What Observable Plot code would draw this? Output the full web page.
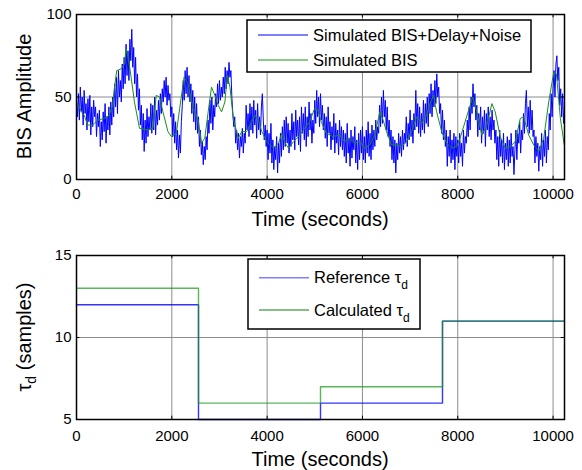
<!DOCTYPE html>
<html><head><meta charset="utf-8">
<script src="https://cdn.jsdelivr.net/npm/d3@7"></script>
<script src="https://cdn.jsdelivr.net/npm/@observablehq/plot@0.6"></script>
<style>
html,body{margin:0;padding:0;background:#fff;}
#chart{position:relative;width:582px;height:470px;}
#chart svg{position:absolute;left:0;}
</style></head><body><div id="chart"></div>
<script>
// ---- data ----
const noisyStep = 20; // seconds between samples of the noisy series
const bisNoisy = [
 48,38,52,36,56,41,50,33,54,40,46,30,49,35,51,27,44,32,48,38,
 44,26,40,32,42,20,35,24,41,29,46,22,38,30,44,27,47,33,50,38,
 58,44,62,40,66,50,60,47,70,55,74,58,82,63,78,60,85,72,91,68,
 80,58,74,50,64,42,55,33,45,24,40,17,36,22,43,26,38,30,46,28,
 45,30,50,27,42,33,48,36,52,40,55,47,60,50,62,45,57,48,52,38,
 44,26,40,22,35,18,30,13,27,16,35,45,60,48,66,52,68,50,63,47,
 58,40,54,35,50,30,46,28,38,20,30,15,23,9,20,12,26,18,36,28,
 48,34,50,30,45,38,52,44,58,46,60,48,56,50,62,52,68,55,66,58,
 71,62,66,50,40,32,38,22,30,18,28,13,26,20,31,16,28,22,45,30,
 40,26,46,30,44,28,48,33,42,25,46,30,38,27,44,52,36,24,33,20,
 30,12,28,16,34,10,24,6,20,12,26,4,22,10,28,14,32,18,36,20,
 38,22,34,16,30,20,40,24,35,18,42,26,36,21,38,17,44,28,40,24,
 44,20,38,26,47,30,40,22,36,28,48,34,54,38,50,32,52,36,45,30,
 40,25,38,20,44,28,35,18,32,24,40,16,34,22,30,15,36,20,32,18,
 30,14,28,10,34,16,25,8,30,13,26,18,32,10,24,6,28,12,30,16,
 32,12,26,10,30,16,35,14,28,12,33,18,30,20,36,24,32,28,45,32,
 50,34,54,38,48,30,44,26,36,20,30,12,26,10,24,4,22,12,28,16,
 26,14,30,18,28,22,38,20,34,24,42,26,36,22,40,30,54,32,46,28,
 44,26,40,30,48,28,46,34,50,32,52,40,58,38,54,44,60,46,64,50,
 56,40,46,28,42,24,36,20,30,8,26,14,30,10,24,12,28,6,26,14,
 24,10,28,14,22,8,30,16,26,22,36,26,44,30,50,40,58,44,52,36,
 45,26,40,30,44,22,38,28,42,20,40,30,44,26,38,24,42,30,36,22,
 30,12,26,8,30,14,24,10,28,6,22,12,26,8,24,10,28,14,20,3,
 18,30,12,28,22,35,16,30,24,40,28,46,54,32,44,28,48,30,42,26,
 30,10,26,14,22,5,20,12,28,8,24,14,30,10,26,18,40,30,52,38,
 55,66,50,70,75,60,68,45,55,38,52,34,44
];
const bisTime = [0,127,162,232,337,443,583,689,759,794,844,935,1005,1040,1076,1146,1216,1322,1497,1603,1673,1743,1814,1919,1989,2095,2165,2257,2341,2446,2552,2622,2692,2763,2833,2903,2974,3044,3114,3164,3220,3290,3395,3466,3571,3677,3747,3817,3888,3993,4134,4239,4309,4380,4450,4555,4661,4786,4891,4996,5067,5137,5242,5382,5523,5628,5733,5839,5944,6049,6154,6260,6365,6435,6505,6611,6716,6821,6926,7032,7137,7242,7347,7432,7488,7558,7663,7769,7874,7979,8049,8154,8260,8316,8400,8505,8611,8716,8786,8891,8997,9102,9207,9312,9382,9488,9593,9698,9804,9909,10014,10070,10154,10235];
const bisSim = [47,40,39,33,33,36,37,39,45,55,66,67,70,79,76,62,47,31,30,31,51,50,41,29,26,28,43,62,58,43,36,22,25,41,56,51,45,41,47,63,56,37,25,29,29,35,39,36,29,23,19,22,28,22,19,23,26,31,35,43,42,35,28,26,27,23,25,22,23,19,21,27,41,36,29,21,21,20,23,29,38,34,39,47,51,41,29,22,19,20,25,35,45,50,41,27,33,46,41,26,19,20,23,37,38,27,21,17,25,47,65,64,37,21];
const stepTime = [0, 2560, 5120, 7680, 10240];
const tauRef  = [12, 5, 6, 11, 11];
const tauCalc = [13, 6, 7, 11, 11];
const xTicks = [0, 2000, 4000, 6000, 8000, 10000];
const yTicksTop = [0, 50, 100];
const yTicksBot = [5, 10, 15];
const xDomain = [0, 10240];

// ---- build ----
const FONT = '"Liberation Sans", Arial, Helvetica, sans-serif';
const noisy = bisNoisy.map((v, i) => ({t: i * noisyStep, v}));
const smooth = bisTime.map((t, i) => ({t, v: bisSim[i]}));
const refRows = stepTime.map((t, i) => ({t, v: tauRef[i]}));
const calcRows = stepTime.map((t, i) => ({t, v: tauCalc[i]}));
const GRID = "#8c8c8c";

function innerTicks(yDom, tickLenY, tickLenX, yt) {
  return [
    Plot.ruleX(xTicks, {y1: yDom[0], y2: yDom[0] + tickLenY, stroke: "#000"}),
    Plot.ruleX(xTicks, {y1: yDom[1] - tickLenY, y2: yDom[1], stroke: "#000"}),
    Plot.ruleY(yt, {x1: xDomain[0], x2: xDomain[0] + tickLenX, stroke: "#000"}),
    Plot.ruleY(yt, {x1: xDomain[1] - tickLenX, x2: xDomain[1], stroke: "#000"})
  ];
}

const topSvg = Plot.plot({
  width: 582, height: 235,
  marginLeft: 76, marginRight: 18, marginTop: 14, marginBottom: 56,
  style: {fontFamily: FONT, fontSize: "15px", color: "#000", background: "transparent", overflow: "visible"},
  x: {domain: xDomain},
  y: {domain: [0, 100]},
  marks: [
    Plot.gridX(xTicks, {stroke: GRID, strokeOpacity: 1}),
    Plot.gridY(yTicksTop, {stroke: GRID, strokeOpacity: 1}),
    Plot.line(noisy, {x: "t", y: "v", stroke: "#0000ff", strokeWidth: 1}),
    Plot.line(smooth, {x: "t", y: "v", stroke: "#1a8f1a", strokeWidth: 1}),
    ...innerTicks([0, 100], 2, 70, yTicksTop),
    Plot.frame({stroke: "#000", strokeWidth: 1.5}),
    Plot.axisX(xTicks, {tickSize: 0, tickPadding: 9, tickFormat: d => String(d), label: null, fontSize: 15}),
    Plot.axisY(yTicksTop, {tickSize: 0, tickPadding: 5, label: null, fontSize: 15})
  ]
});
topSvg.style.top = "0px";

const botSvg = Plot.plot({
  width: 582, height: 235,
  marginLeft: 76, marginRight: 18, marginTop: 20, marginBottom: 51,
  style: {fontFamily: FONT, fontSize: "15px", color: "#000", background: "transparent", overflow: "visible"},
  x: {domain: xDomain},
  y: {domain: [5, 15]},
  marks: [
    Plot.gridX(xTicks, {stroke: GRID, strokeOpacity: 1}),
    Plot.gridY(yTicksBot, {stroke: GRID, strokeOpacity: 1}),
    Plot.line(refRows, {x: "t", y: "v", curve: "step-after", stroke: "#0000ff", strokeOpacity: 0.8, strokeWidth: 1.4}),
    Plot.line(calcRows, {x: "t", y: "v", curve: "step-after", stroke: "#139913", strokeOpacity: 0.7, strokeWidth: 1.4}),
    ...innerTicks([5, 15], 0.2, 70, yTicksBot),
    Plot.frame({stroke: "#000", strokeWidth: 1.5}),
    Plot.axisX(xTicks, {tickSize: 0, tickPadding: 11, tickFormat: d => String(d), label: null, fontSize: 15}),
    Plot.axisY(yTicksBot, {tickSize: 0, tickPadding: 5, label: null, fontSize: 15})
  ]
});
botSvg.style.top = "235px";

const chart = document.getElementById("chart");
chart.appendChild(topSvg);
chart.appendChild(botSvg);

// ---- titles ----
function title(svg, x, y, rotate, parts) {
  const t = d3.select(svg).append("text")
    .attr("transform", `translate(${x},${y})` + (rotate ? " rotate(-90)" : ""))
    .attr("text-anchor", "middle")
    .attr("font-family", FONT).attr("font-size", 20).attr("fill", "#000");
  parts.forEach(p => {
    const s = t.append("tspan").text(p.text);
    if (p.sub) s.attr("font-size", 14).attr("dy", "5");
    if (p.up) s.attr("dy", "-5");
  });
}
title(topSvg, 31, 96.5, true, [{text: "BIS Amplitude"}]);
title(topSvg, 320, 226, false, [{text: "Time (seconds)"}]);
title(botSvg, 31, 102, true, [{text: "τ"}, {text: "d", sub: true}, {text: " (samples)", up: true}]);
title(botSvg, 320, 231, false, [{text: "Time (seconds)"}]);

// ---- legends ----
function legend(svg, box, rows) {
  const g = d3.select(svg).append("g");
  g.append("rect").attr("x", box.x).attr("y", box.y).attr("width", box.w).attr("height", box.h)
    .attr("fill", "#fff").attr("stroke", "#000").attr("stroke-width", 1.5);
  rows.forEach(r => {
    g.append("line").attr("x1", box.x + 11).attr("x2", box.x + 61).attr("y1", r.y).attr("y2", r.y)
      .attr("stroke", r.color).attr("stroke-width", r.w || 1).attr("stroke-opacity", r.op || 1);
    const t = g.append("text").attr("x", box.x + 66).attr("y", r.y + 5.5)
      .attr("text-anchor", "start")
      .attr("font-family", FONT).attr("font-size", 16.5).attr("fill", "#000");
    r.parts.forEach(p => {
      const s = t.append("tspan").text(p.text);
      if (p.sub) s.attr("font-size", 12).attr("dy", "6");
    });
  });
}
legend(topSvg, {x: 247, y: 20, w: 284, h: 52}, [
  {y: 35, color: "#0000ff", parts: [{text: "Simulated BIS+Delay+Noise"}]},
  {y: 60, color: "#1a8f1a", parts: [{text: "Simulated BIS"}]}
]);
legend(botSvg, {x: 248, y: 24, w: 172, h: 70}, [
  {y: 42.7, color: "#0000ff", w: 1.6, op: 0.5, parts: [{text: "Reference τ"}, {text: "d", sub: true}]},
  {y: 75, color: "#137a13", parts: [{text: "Calculated τ"}, {text: "d", sub: true}]}
]);
</script>
</body></html>
